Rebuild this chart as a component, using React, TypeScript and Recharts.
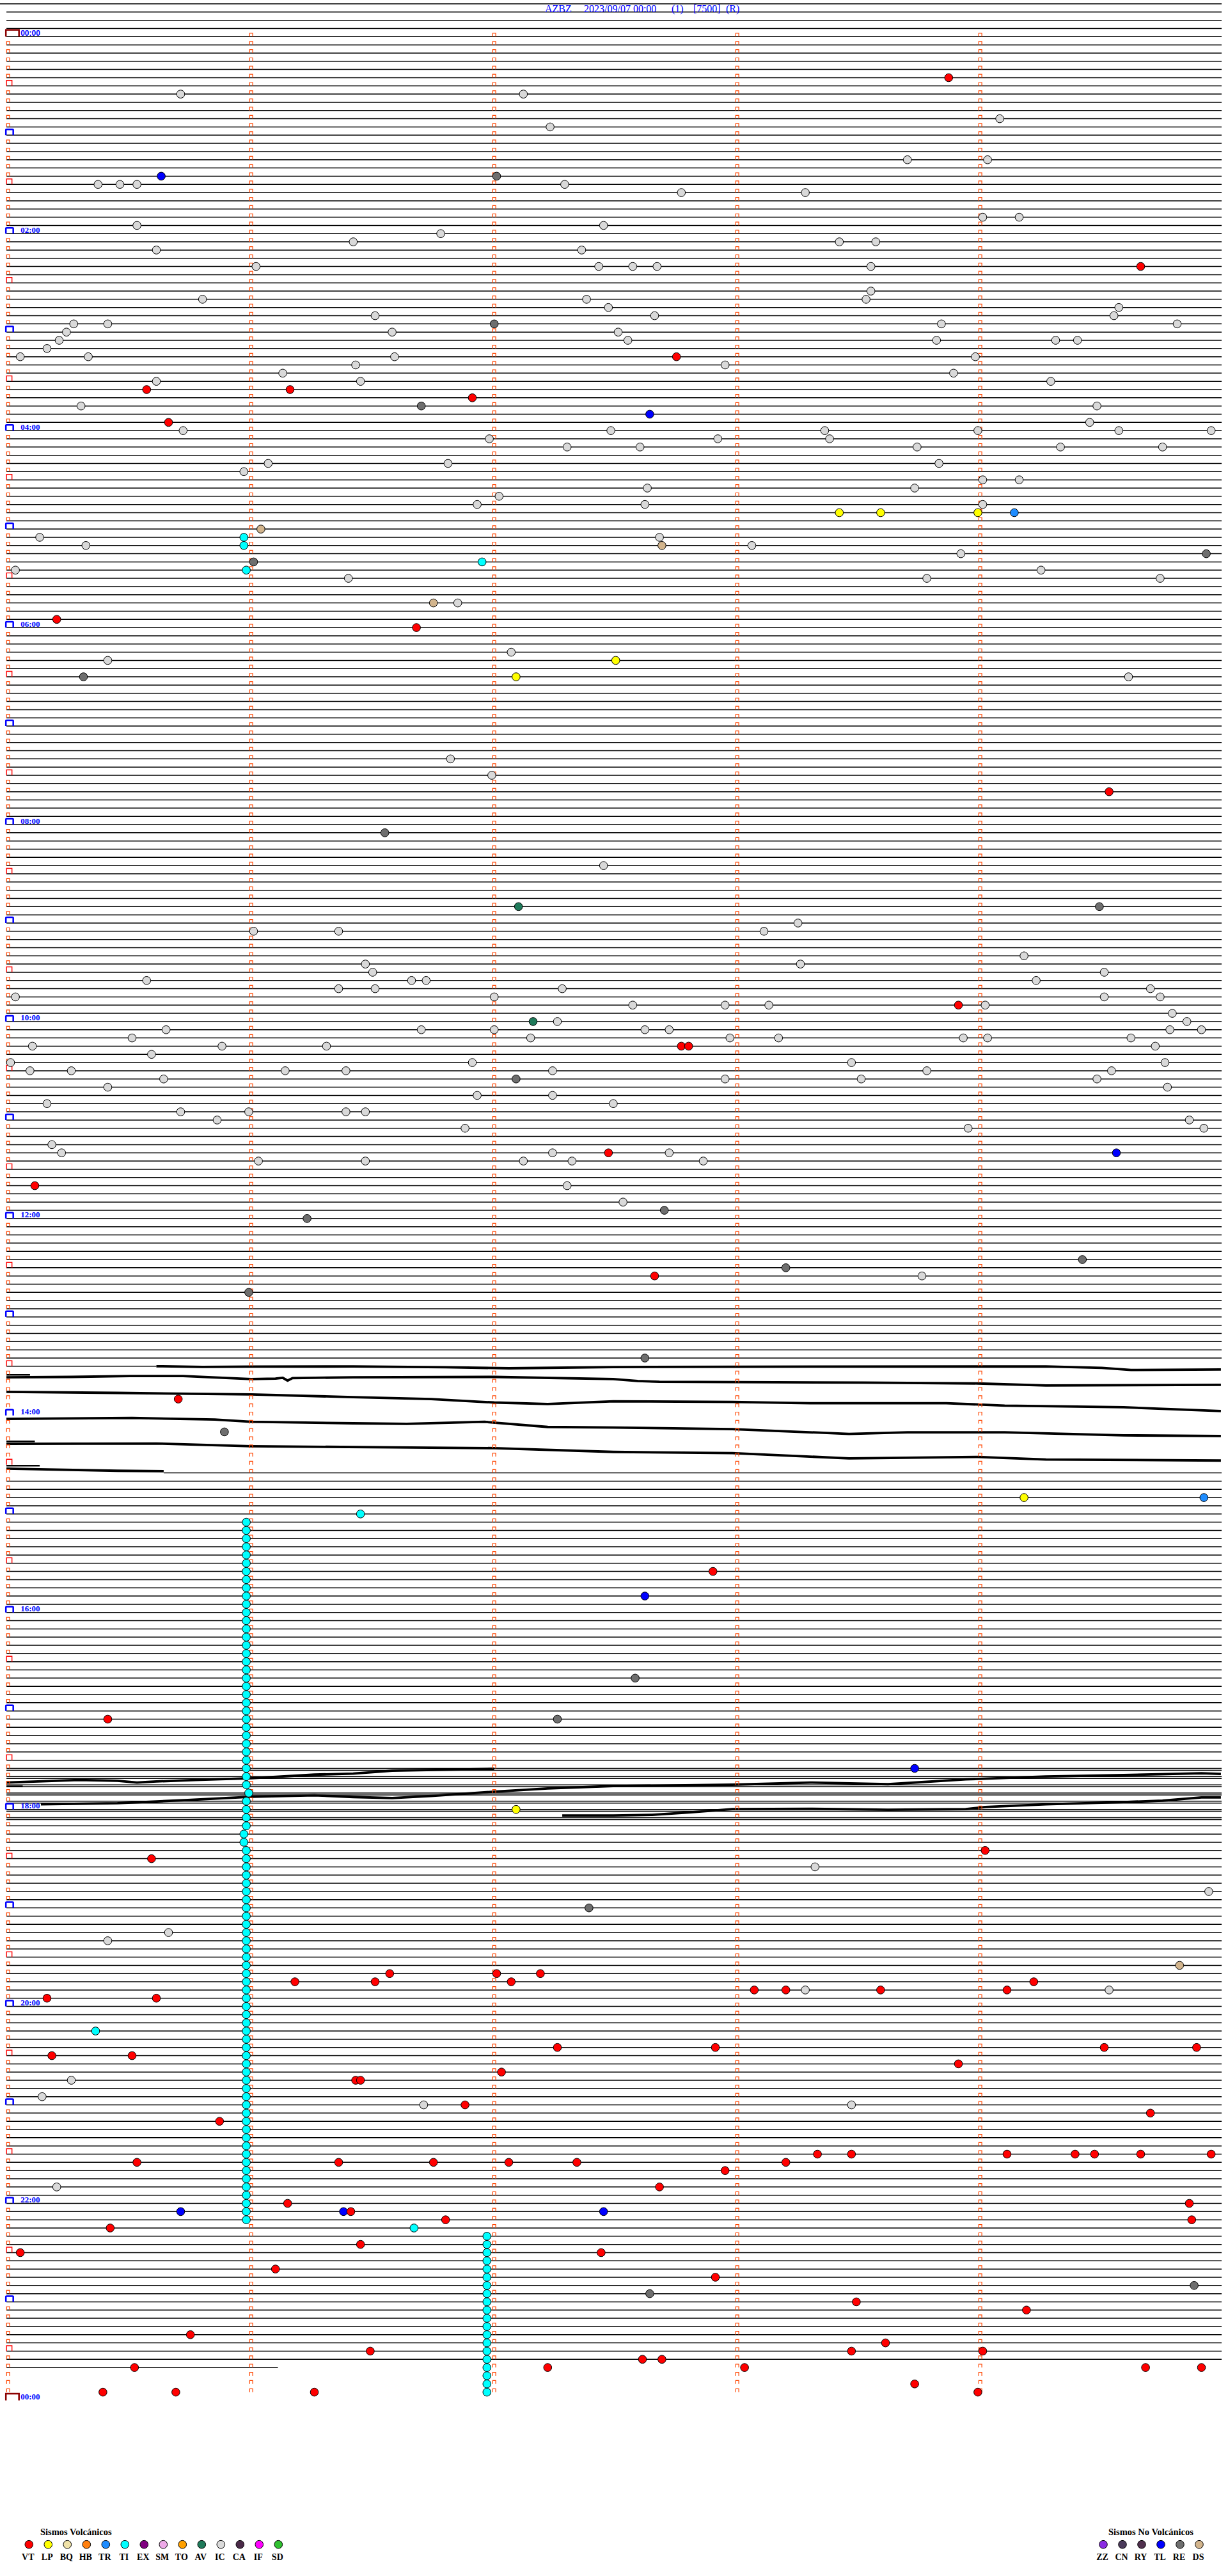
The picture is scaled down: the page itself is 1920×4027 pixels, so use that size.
import { ReferenceLine, Scatter, ScatterChart, XAxis, YAxis } from "recharts";

// [line, minute]: line = 5-minute row counted from 00:00, minute = offset inside the row (0..5)
type Ev = [number, number];
// [minute, line] points of a drifting trace
type Pt = [number, number];

const CHART_W = 1920;
const CHART_H = 3770;
const X_DOMAIN: [number, number] = [-0.0334, 5.0192];
const Y_DOMAIN: [number, number] = [-4.466, 289.37];

const TITLE_PARTS = ["AZBZ", "2023/09/07 00:00", "(1)", "[7500]", "(R)"];
const TITLE_X = [852, 913, 1050, 1084, 1135];

const HOUR_LABELS = ["00:00", "02:00", "04:00", "06:00", "08:00", "10:00", "12:00", "14:00", "16:00", "18:00", "20:00", "22:00", "00:00"];

const VOLCANIC = ["VT", "LP", "BQ", "HB", "TR", "TI", "EX", "SM", "TO", "AV", "IC", "CA", "IF", "SD"];
const NON_VOLCANIC = ["ZZ", "CN", "RY", "TL", "RE", "DS"];

const COLORS: Record<string, string> = {
  VT: "#ff0000", LP: "#ffff00", BQ: "#f0e2a8", HB: "#ff8010", TR: "#1e8cff", TI: "#00ffff",
  EX: "#800080", SM: "#eeaae8", TO: "#ffa000", AV: "#1f7a5a", IC: "#d9d9d9", CA: "#4a2a48",
  IF: "#ff00ff", SD: "#30c030", ZZ: "#8a2be2", CN: "#4a3a5a", RY: "#50304e", TL: "#0000ff",
  RE: "#6e6e6e", DS: "#d2b48c",
};

// trace rows
const FIRST_LINE = -4;
const LAST_LINE = 284;
const LINE_START = -0.007;
const LINE_END = 4.993;
const MISSING_LINES = [163, 164, 165, 166, 167, 168, 169, 170, 171, 172, 173, 174];
const PARTIAL_LINES: Record<number, [number, number]> = {
  [-4]: [-0.0334, 4.993],
  162: [-0.007, 0.61],
  175: [0.64, 4.993],
  284: [-0.007, 1.11],
};
const DOUBLED_LINES = [211, 212, 213, 214, 215, 216, 217];
// [fromMinute, toMinute, line]
const STUBS: [number, number, number][] = [
  [-0.007, 0.09, 163.05],
  [-0.007, 0.11, 171.15],
  [-0.007, 0.13, 174.12],
  [-0.007, 0.06, 213.19],
];

// drifting noisy traces (13:30 and 17:30)
const TRACE_A: Pt[] = [[0.61, 162.0], [0.8, 162.08], [1.0, 162.05], [1.42, 162.03], [1.8, 162.12], [2.06, 162.25], [2.49, 162.1], [3.3, 162.05], [4.27, 162.03], [4.5, 162.2], [4.62, 162.45], [4.99, 162.4]];
const TRACE_B: Pt[] = [[-0.007, 163.35], [0.26, 163.3], [0.5, 163.2], [0.72, 163.2], [1.0, 163.57], [1.1, 163.5], [1.13, 163.4], [1.15, 163.75], [1.17, 163.45], [1.42, 163.35], [2.0, 163.3], [2.49, 163.57], [2.59, 163.8], [2.68, 163.9], [3.52, 164.0], [3.99, 164.1], [4.27, 164.35], [4.99, 164.27]];
const TRACE_C: Pt[] = [[-0.007, 165.12], [0.45, 165.25], [1.0, 165.43], [1.42, 165.77], [1.74, 166.0], [2.0, 166.42], [2.22, 166.6], [2.49, 166.27], [2.98, 166.35], [3.3, 166.5], [3.86, 166.5], [4.1, 166.8], [4.59, 167.0], [4.99, 167.46]];
const TRACE_D: Pt[] = [[-0.007, 168.42], [0.51, 168.3], [0.85, 168.5], [1.0, 168.77], [1.42, 168.95], [1.64, 169.02], [1.96, 168.77], [2.22, 169.4], [2.49, 169.47], [2.98, 169.67], [3.46, 170.24], [3.7, 170.05], [4.1, 170.06], [4.59, 170.42], [4.99, 170.5]];
const TRACE_E: Pt[] = [[-0.007, 171.46], [0.61, 171.41], [1.0, 171.75], [1.58, 171.88], [2.0, 171.98], [2.49, 172.44], [2.98, 172.58], [3.46, 173.23], [3.99, 173.05], [4.27, 173.36], [4.99, 173.49]];
const TRACE_F: Pt[] = [[-0.007, 174.48], [0.16, 174.58], [0.45, 174.74], [0.64, 174.79]];
const TRACE_G: Pt[] = [[-0.007, 212.72], [0.29, 212.41], [0.45, 212.51], [0.53, 212.72], [0.61, 212.59], [0.77, 212.41], [1.0, 212.2], [1.26, 211.76], [1.42, 211.63], [1.58, 211.29], [1.9, 211.11], [2.0, 211.05]];
const TRACE_I: Pt[] = [[0.135, 215.37], [0.45, 215.24], [0.74, 214.85], [1.0, 214.46], [1.26, 214.28], [1.42, 214.49], [1.58, 214.62], [1.74, 214.36], [2.0, 213.84], [2.22, 213.45], [2.49, 213.16], [2.98, 212.99], [3.3, 212.72], [3.62, 212.93], [3.94, 212.33], [4.27, 211.99], [4.59, 211.81], [4.91, 211.6], [4.99, 211.68]];
const TRACE_J: Pt[] = [[2.28, 216.74], [2.49, 216.74], [2.65, 216.66], [2.81, 216.35], [2.98, 215.96], [3.3, 215.92], [3.62, 216.04], [3.94, 215.96], [4.02, 215.7], [4.27, 215.37], [4.59, 215.1], [4.75, 214.93], [4.91, 214.54], [4.99, 214.54]];
const TRACES = [TRACE_A, TRACE_B, TRACE_C, TRACE_D, TRACE_E, TRACE_F, TRACE_G, TRACE_I, TRACE_J];

// events
const IC: Ev[] = [
  [7, 0.71], [7, 2.12], [10, 4.08], [11, 2.23], [15, 3.7], [15, 4.03], [18, 0.37], [18, 0.46], [18, 0.53], [18, 2.29],
  [19, 2.77], [19, 3.28], [22, 4.01], [22, 4.16], [23, 0.53], [23, 2.45], [24, 1.78], [25, 1.42], [25, 3.42], [25, 3.57],
  [26, 0.61], [26, 2.36], [28, 1.02], [28, 2.43], [28, 2.57], [28, 2.67], [28, 3.55], [31, 3.55], [32, 0.8], [32, 2.38],
  [32, 3.53], [33, 2.47], [33, 4.57], [34, 1.51], [34, 2.66], [34, 4.55], [35, 0.27], [35, 0.41], [35, 3.84], [35, 4.81],
  [36, 0.24], [36, 1.58], [36, 2.51], [37, 0.21], [37, 2.55], [37, 3.82], [37, 4.31], [37, 4.4], [38, 0.16], [39, 0.05],
  [39, 0.33], [39, 1.59], [39, 3.98], [40, 1.43], [40, 2.95], [41, 1.13], [41, 3.89], [42, 0.61], [42, 1.45], [42, 4.29],
  [45, 0.3], [45, 4.48], [47, 4.45], [48, 0.72], [48, 2.48], [48, 3.36], [48, 3.99], [48, 4.57], [48, 4.95], [49, 1.98],
  [49, 2.92], [49, 3.38], [50, 2.3], [50, 2.6], [50, 3.74], [50, 4.33], [50, 4.75], [52, 1.07], [52, 1.81], [52, 3.83],
  [53, 0.97], [54, 4.01], [54, 4.16], [55, 2.63], [55, 3.73], [56, 2.02], [57, 1.93], [57, 2.62], [57, 4.01], [61, 0.13],
  [61, 2.68], [62, 0.32], [62, 3.06], [63, 3.92], [65, 0.03], [65, 4.25], [66, 1.4], [66, 3.78], [66, 4.74], [69, 1.85],
  [75, 2.07], [76, 0.41], [78, 4.61], [88, 1.82], [90, 1.99], [101, 2.45], [108, 3.25], [109, 1.01], [109, 1.36], [109, 3.11],
  [112, 4.18], [113, 1.47], [113, 3.26], [114, 1.5], [114, 4.51], [115, 0.57], [115, 1.66], [115, 1.72], [115, 4.23], [116, 1.36],
  [116, 1.51], [116, 2.28], [116, 4.7], [117, 0.03], [117, 2.0], [117, 4.51], [117, 4.74], [118, 2.57], [118, 2.95], [118, 3.13],
  [118, 4.02], [119, 4.79], [120, 2.26], [120, 4.85], [121, 0.65], [121, 1.7], [121, 2.0], [121, 2.62], [121, 2.72], [121, 4.78],
  [121, 4.91], [122, 0.51], [122, 2.15], [122, 2.97], [122, 3.17], [122, 3.93], [122, 4.03], [122, 4.62], [123, 0.1], [123, 0.88],
  [123, 1.31], [123, 4.72], [124, 0.59], [125, 0.01], [125, 1.91], [125, 3.47], [125, 4.76], [126, 0.09], [126, 0.26], [126, 1.14],
  [126, 1.39], [126, 2.24], [126, 3.78], [126, 4.54], [127, 0.64], [127, 2.95], [127, 3.51], [127, 4.48], [128, 0.41], [128, 4.77],
  [129, 1.93], [129, 2.24], [130, 0.16], [130, 2.49], [131, 0.71], [131, 0.99], [131, 1.39], [131, 1.47], [132, 0.86], [132, 4.86],
  [133, 1.88], [133, 3.95], [133, 4.92], [135, 0.18], [136, 0.22], [136, 2.24], [136, 2.72], [137, 1.03], [137, 1.47], [137, 2.12],
  [137, 2.32], [137, 2.86], [140, 2.3], [142, 2.53], [151, 3.76], [223, 3.32], [226, 4.94], [231, 0.66], [232, 0.41], [238, 3.28],
  [238, 4.53], [249, 0.26], [251, 0.14], [252, 1.71], [252, 3.47], [262, 0.2],
];
const RE: Ev[] = [
  [17, 2.01], [35, 2.0], [45, 1.7], [63, 4.93], [64, 1.01], [78, 0.31], [97, 1.55], [106, 4.49], [127, 2.09], [143, 2.7],
  [144, 1.23], [149, 4.42], [150, 3.2], [153, 0.99], [161, 2.62], [170, 0.89], [200, 2.58], [205, 2.26], [228, 2.39], [274, 4.88],
  [275, 2.64],
];
const DS: Ev[] = [[60, 1.04], [62, 2.69], [69, 1.75], [235, 4.82]];
const AV: Ev[] = [[106, 2.1], [120, 2.16]];
const TL: Ev[] = [[17, 0.63], [46, 2.64], [136, 4.56], [190, 2.62], [211, 3.73], [265, 0.71], [265, 1.38], [265, 2.45]];
const TR: Ev[] = [[58, 4.14], [178, 4.92]];
const LP: Ev[] = [[58, 3.42], [58, 3.59], [58, 3.99], [76, 2.5], [78, 2.09], [178, 4.18], [216, 2.09]];
const TI: Ev[] = [
  [61, 0.97], [62, 0.97], [65, 0.98], [64, 1.95], [180, 1.45], [243, 0.36], [267, 1.67],
  [181, 0.98], [182, 0.98], [183, 0.98], [184, 0.98], [185, 0.98], [186, 0.98], [187, 0.98], [188, 0.98], [189, 0.98], [190, 0.98],
  [191, 0.98], [192, 0.98], [193, 0.98], [194, 0.98], [195, 0.98], [196, 0.98], [197, 0.98], [198, 0.98], [199, 0.98], [200, 0.98],
  [201, 0.98], [202, 0.98], [203, 0.98], [204, 0.98], [205, 0.98], [206, 0.98], [207, 0.98], [208, 0.98], [209, 0.98], [210, 0.98],
  [211, 0.98], [212, 0.98], [213, 0.98], [214, 0.99], [215, 0.98], [216, 0.98], [217, 0.98], [218, 0.98], [219, 0.97], [220, 0.97],
  [221, 0.98], [222, 0.98], [223, 0.98], [224, 0.98], [225, 0.98], [226, 0.98], [227, 0.98], [228, 0.98], [229, 0.98], [230, 0.98],
  [231, 0.98], [232, 0.98], [233, 0.98], [234, 0.98], [235, 0.98], [236, 0.98], [237, 0.98], [238, 0.98], [239, 0.98], [240, 0.98],
  [241, 0.98], [242, 0.98], [243, 0.98], [244, 0.98], [245, 0.98], [246, 0.98], [247, 0.98], [248, 0.98], [249, 0.98], [250, 0.98],
  [251, 0.98], [252, 0.98], [253, 0.98], [254, 0.98], [255, 0.98], [256, 0.98], [257, 0.98], [258, 0.98], [259, 0.98], [260, 0.98],
  [261, 0.98], [262, 0.98], [263, 0.98], [264, 0.98], [265, 0.98], [266, 0.98],
  [268, 1.97], [269, 1.97], [270, 1.97], [271, 1.97], [272, 1.97], [273, 1.97], [274, 1.97], [275, 1.97], [276, 1.97], [277, 1.97],
  [278, 1.97], [279, 1.97], [280, 1.97], [281, 1.97], [282, 1.97], [283, 1.97], [284, 1.97], [285, 1.97], [286, 1.97], [287, 1.97],
];
const VT: Ev[] = [
  [5, 3.87], [28, 4.66], [39, 2.75], [43, 0.57], [43, 1.16], [44, 1.91], [47, 0.66], [71, 0.2], [72, 1.68], [92, 4.53],
  [118, 3.91], [123, 2.77], [123, 2.8], [136, 2.47], [140, 0.11], [151, 2.66], [166, 0.7], [187, 2.9], [205, 0.41], [221, 4.02],
  [222, 0.59], [236, 1.57], [236, 2.01], [236, 2.19], [237, 1.18], [237, 1.51], [237, 2.07], [237, 4.22], [238, 3.07], [238, 3.2],
  [238, 3.59], [238, 4.11], [239, 0.16], [239, 0.61], [245, 2.26], [245, 2.91], [245, 4.51], [245, 4.89], [246, 0.18], [246, 0.51],
  [247, 3.91], [248, 2.03], [249, 1.43], [249, 1.45], [252, 1.88], [253, 4.7], [254, 0.87], [258, 3.33], [258, 3.47], [258, 4.11],
  [258, 4.39], [258, 4.47], [258, 4.66], [258, 4.95], [259, 0.53], [259, 1.36], [259, 1.75], [259, 2.06], [259, 2.34], [259, 3.2],
  [260, 2.95], [262, 2.68], [264, 1.15], [264, 4.86], [265, 1.41], [266, 1.8], [266, 4.87], [267, 0.42], [269, 1.45], [270, 0.05],
  [270, 2.44], [272, 1.1], [273, 2.91], [276, 3.49], [277, 4.19], [280, 0.75], [281, 3.61], [282, 1.49], [282, 3.47], [282, 4.01],
  [283, 2.61], [283, 2.69], [284, 0.52], [284, 2.22], [284, 3.03], [284, 4.68], [284, 4.91], [286, 3.73], [287, 0.39], [287, 0.69],
  [287, 1.26], [287, 3.99],
];

const EVENT_SERIES: { type: string; data: Ev[] }[] = [
  { type: "IC", data: IC },
  { type: "RE", data: RE },
  { type: "DS", data: DS },
  { type: "AV", data: AV },
  { type: "TL", data: TL },
  { type: "TR", data: TR },
  { type: "LP", data: LP },
  { type: "TI", data: TI },
  { type: "VT", data: VT },
];

// time marks: columns at each minute, one mark per 5-minute row
const MARK_MINUTES = [0, 1, 2, 3, 4];
const LAST_MARK_ROW = 287;
const DAY_END_ROW = 288;

const rows: number[] = [];
for (let r = FIRST_LINE; r <= LAST_LINE; r++) if (!MISSING_LINES.includes(r)) rows.push(r);

const marks: { min: number; line: number }[] = [];
for (const m of MARK_MINUTES) {
  for (let r = 0; r <= LAST_MARK_ROW; r++) marks.push({ min: m, line: r });
}
marks.push({ min: 0, line: DAY_END_ROW });

const hourMarks = HOUR_LABELS.map((label, i) => ({ min: 0, line: i * 24, label }));

const Empty = () => <g />;

function Mark(p: any) {
  const { cx, cy, payload } = p;
  const r = payload.line;
  if (payload.min === 0 && (r === 0 || r === DAY_END_ROW)) {
    return <path d={`M${cx - 3.5},${cy} V${cy - 10.5} H${cx + 17} V${cy}`} fill="none" stroke="#8b0000" strokeWidth={2.5} />;
  }
  if (payload.min === 0 && r % 12 === 0) {
    return <path d={`M${cx - 3.5},${cy} V${cy - 8} Q${cx - 3.5},${cy - 9} ${cx - 2},${cy - 9} H${cx + 6.5} Q${cx + 8},${cy - 9} ${cx + 8},${cy - 8} V${cy}`} fill="none" stroke="#0000ff" strokeWidth={2.5} />;
  }
  if (payload.min === 0 && r % 6 === 0) {
    return <path d={`M${cx - 2.5},${cy} V${cy - 8.5} H${cx + 6} V${cy}`} fill="none" stroke="#ff0000" strokeWidth={1.4} />;
  }
  return <path d={`M${cx - 2.4},${cy} V${cy - 5.3} H${cx + 2.4} V${cy}`} fill="none" stroke="#ff4500" strokeWidth={1.2} />;
}

function HourLabel(p: any) {
  const { cx, cy, payload, index } = p;
  return (
    <text
      x={cx + 19.5}
      y={cy - 1.5}
      fill="#0000ff"
      fontSize={index === 0 ? 12 : 13}
      fontWeight="bold"
      fontFamily={index === 0 ? "Liberation Sans, Arial, sans-serif" : "Liberation Serif, Times New Roman, serif"}
    >
      {payload.label}
    </text>
  );
}

const dot = (fill: string) => (p: any) => (
  <circle cx={p.cx} cy={p.cy} r={6.3} fill={fill} stroke="#000" strokeWidth={1} />
);

function LegendGroup({ title, types, firstX, titleX }: { title: string; types: string[]; firstX: number; titleX: number }) {
  return (
    <g fontFamily="Liberation Serif, Times New Roman, serif" fontWeight="bold" fill="#000">
      <text x={titleX} y={3963} fontSize={14.5}>{title}</text>
      {types.map((t, i) => (
        <g key={t}>
          <circle cx={firstX + i * 30} cy={3977.7} r={6.3} fill={COLORS[t]} stroke="#000" strokeWidth={1} />
          <text x={firstX + i * 30 - 1.5} y={4002} fontSize={14} textAnchor="middle">{t}</text>
        </g>
      ))}
    </g>
  );
}

export default function App() {
  return (
    <div style={{ position: "relative", width: 1920, height: 4027, background: "#fff", overflow: "hidden" }}>
      <style>{"body{margin:0}"}</style>
      <ScatterChart width={CHART_W} height={CHART_H} margin={{ top: 0, right: 0, bottom: 0, left: 0 }}>
        <XAxis type="number" dataKey="min" domain={X_DOMAIN} hide />
        <YAxis type="number" dataKey="line" domain={Y_DOMAIN} reversed hide />
        {rows.map((r) => {
          const [a, b] = PARTIAL_LINES[r] ?? [LINE_START, LINE_END];
          return (
            <ReferenceLine
              key={`row${r}`}
              segment={[{ x: a, y: r }, { x: b, y: r }]}
              stroke="#000"
              strokeWidth={1.5}
              ifOverflow="visible"
            />
          );
        })}
        {DOUBLED_LINES.map((r) => (
          <ReferenceLine
            key={`dbl${r}`}
            segment={[{ x: LINE_START, y: r + 0.23 }, { x: LINE_END, y: r + 0.23 }]}
            stroke="#000"
            strokeWidth={1.5}
            ifOverflow="visible"
          />
        ))}
        {STUBS.map(([a, b, r], i) => (
          <ReferenceLine key={`stub${i}`} segment={[{ x: a, y: r }, { x: b, y: r }]} stroke="#000" strokeWidth={2.5} ifOverflow="visible" />
        ))}
        {TRACES.map((t, i) => (
          <Scatter
            key={`trace${i}`}
            data={t.map(([min, line]) => ({ min, line }))}
            line={{ stroke: "#000", strokeWidth: 3.8, strokeLinejoin: "round" }}
            shape={Empty}
            isAnimationActive={false}
          />
        ))}
        <Scatter data={marks} shape={Mark} isAnimationActive={false} />
        <Scatter data={hourMarks} shape={HourLabel} isAnimationActive={false} />
        {EVENT_SERIES.map((s) => (
          <Scatter
            key={s.type}
            data={s.data.map(([line, min]) => ({ line, min }))}
            shape={dot(COLORS[s.type])}
            isAnimationActive={false}
          />
        ))}
      </ScatterChart>
      <svg width={1920} height={4027} style={{ position: "absolute", left: 0, top: 0, pointerEvents: "none" }}>
        {TITLE_PARTS.map((t, i) => (
          <text key={t} x={TITLE_X[i]} y={19} fill="#0000ff" fontSize={16} fontFamily="Liberation Serif, Times New Roman, serif">
            {t}
          </text>
        ))}
        <LegendGroup title="Sismos Volcánicos" types={VOLCANIC} firstX={45.3} titleX={63} />
        <LegendGroup title="Sismos No Volcánicos" types={NON_VOLCANIC} firstX={1725} titleX={1733} />
      </svg>
    </div>
  );
}
